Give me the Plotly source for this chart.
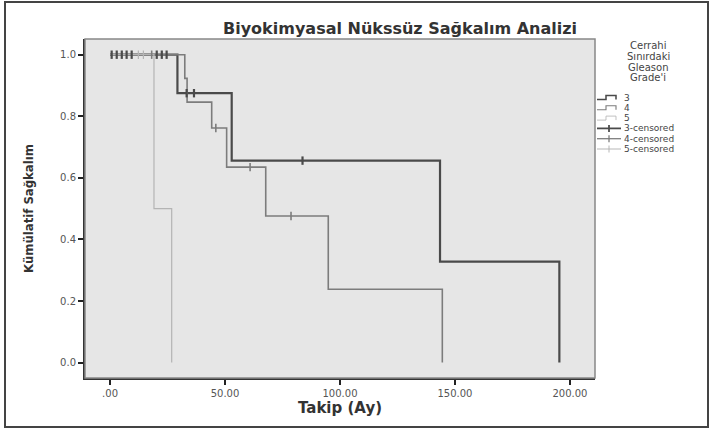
import plotly.graph_objects as go

# Kaplan-Meier curves (time in months, cumulative survival)
t3 = [0, 29.3, 52.9, 143.5, 195.4]
s3 = [1.0, 0.875, 0.656, 0.328, 0.0]
t4 = [0, 32.5, 33.5, 44.2, 50.7, 67.7, 94.9, 144.5]
s4 = [1.0, 0.923, 0.846, 0.762, 0.635, 0.476, 0.238, 0.0]
t5 = [0, 19.1, 26.8]
s5 = [1.0, 0.5, 0.0]

# censored observations
c3_t = [0.7, 2.9, 5.1, 7.2, 9.4, 20.3, 22.5, 24.6, 33.3, 36.5, 83.7]
c3_s = [1.0, 1.0, 1.0, 1.0, 1.0, 1.0, 1.0, 1.0, 0.875, 0.875, 0.656]
c4_t = [18.1, 46.0, 60.9, 78.7]
c4_s = [1.0, 0.762, 0.635, 0.476]
c5_t = [12.3, 14.5]
c5_s = [1.0, 1.0]

xticks = [0, 50, 100, 150, 200]
xlabels = [".00", "50.00", "100.00", "150.00", "200.00"]
yticks = [0, 0.2, 0.4, 0.6, 0.8, 1.0]
ylabels = ["0.0", "0.2", "0.4", "0.6", "0.8", "1.0"]

legend_title = ["Cerrahi", "Sınırdaki", "Gleason", "Grade'i"]
legend_names = ["3", "4", "5", "3-censored", "4-censored", "5-censored"]

col3, col4, col5 = "#4a4a4a", "#7c7c7c", "#b4b4b4"
cols = [col3, col4, col5]
widths = [2.2, 1.6, 1.2]

# plot area in pixels
L, R, T, B = 85, 595, 39, 378


def px(x):
    return (x - L) / (R - L)


def py(y):
    return (B - y) / (B - T)


def gaps(vals):
    # put None between points so no line joins the censor marks
    out = []
    for v in vals:
        out += [v, None]
    return out


fig = go.Figure()
for name, tx, sy, c, w in [("3", t3, s3, col3, 2.2), ("4", t4, s4, col4, 1.6),
                           ("5", t5, s5, col5, 1.2)]:
    fig.add_trace(go.Scatter(x=tx, y=sy, mode="lines", line_shape="hv", name=name,
                             line=dict(color=c, width=w)))
for name, tx, sy, c, w in [("3-censored", c3_t, c3_s, col3, 2.2),
                           ("4-censored", c4_t, c4_s, col4, 1.6),
                           ("5-censored", c5_t, c5_s, col5, 1.2)]:
    fig.add_trace(go.Scatter(x=gaps(tx), y=gaps(sy), mode="markers", name=name,
                             marker=dict(symbol="line-ns-open", size=6, color=c,
                                         line=dict(color=c, width=w))))

fig.update_layout(
    width=709, height=430,
    margin=dict(l=L, r=709 - R, t=T, b=430 - B),
    paper_bgcolor="white", plot_bgcolor="#e6e6e6",
    font=dict(family="DejaVu Sans", color="#333"),
    title=dict(text="<b>Biyokimyasal Nükssüz Sağkalım Analizi</b>",
               font=dict(size=16, color="#333"),
               x=400 / 709, xanchor="center", xref="container",
               y=1 - 28 / 430, yanchor="middle"),
    showlegend=False,
)
fig.update_xaxes(range=[-10.9, 210.9], tickvals=xticks, ticktext=xlabels,
                 showgrid=False, zeroline=False, ticks="outside", ticklen=5,
                 tickcolor="#222", tickwidth=1.5,
                 showline=True, linecolor="#333", linewidth=2,
                 tickfont=dict(size=10, color="#555"),
                 title=dict(text="<b>Takip (Ay)</b>", font=dict(size=15, color="#333"),
                            standoff=3))
fig.update_yaxes(range=[-0.05, 1.051], tickvals=yticks, ticktext=ylabels,
                 showgrid=False, zeroline=False, ticks="outside", ticklen=5,
                 tickcolor="#222", tickwidth=1.5,
                 showline=True, linecolor="#333", linewidth=2,
                 tickfont=dict(size=10, color="#555"),
                 title=dict(text="<b>Kümülatif Sağkalım</b>",
                            font=dict(size=13, family="DejaVu Sans Condensed", color="#333"),
                            standoff=24))

# plot frame and outer border
fig.add_shape(type="rect", xref="paper", yref="paper", x0=0, x1=1, y0=0, y1=1,
              line=dict(color="#888", width=1.5), layer="above")
fig.add_shape(type="rect", xref="paper", yref="paper",
              x0=px(5), x1=px(708), y0=py(427), y1=py(2),
              line=dict(color="#444", width=2))

# compact legend drawn by hand (plotly's own rows are too tall here)
for i, txt in enumerate(legend_title):
    fig.add_annotation(text=txt, xref="paper", yref="paper", x=px(648), y=py(46 + i * 10.5),
                       xanchor="center", yanchor="middle", showarrow=False,
                       font=dict(size=10, color="#444"))
ys = [97.5, 107.8, 118.1, 128.4, 138.7, 149]
for i, name in enumerate(legend_names):
    y = ys[i]
    c, w = cols[i % 3], widths[i % 3]
    if i < 3:
        path = (f"M {px(597)},{py(y + 2)} L {px(606)},{py(y + 2)} "
                f"L {px(606)},{py(y - 2)} L {px(616)},{py(y - 2)} L {px(616)},{py(y + 2)}")
        fig.add_shape(type="path", xref="paper", yref="paper", path=path,
                      line=dict(color=c, width=w * 0.7))
    else:
        fig.add_shape(type="line", xref="paper", yref="paper", x0=px(597), x1=px(621),
                      y0=py(y), y1=py(y), line=dict(color=c, width=w * 0.8))
        fig.add_shape(type="line", xref="paper", yref="paper", x0=px(609), x1=px(609),
                      y0=py(y - 3.5), y1=py(y + 3.5), line=dict(color=c, width=w * 0.8))
    fig.add_annotation(text=name, xref="paper", yref="paper", x=px(622), y=py(y),
                       xanchor="left", yanchor="middle", showarrow=False,
                       font=dict(size=9, color="#444"))

fig.write_html("out.html", config={"displayModeBar": False},
               post_script="document.body.style.margin='0';")
